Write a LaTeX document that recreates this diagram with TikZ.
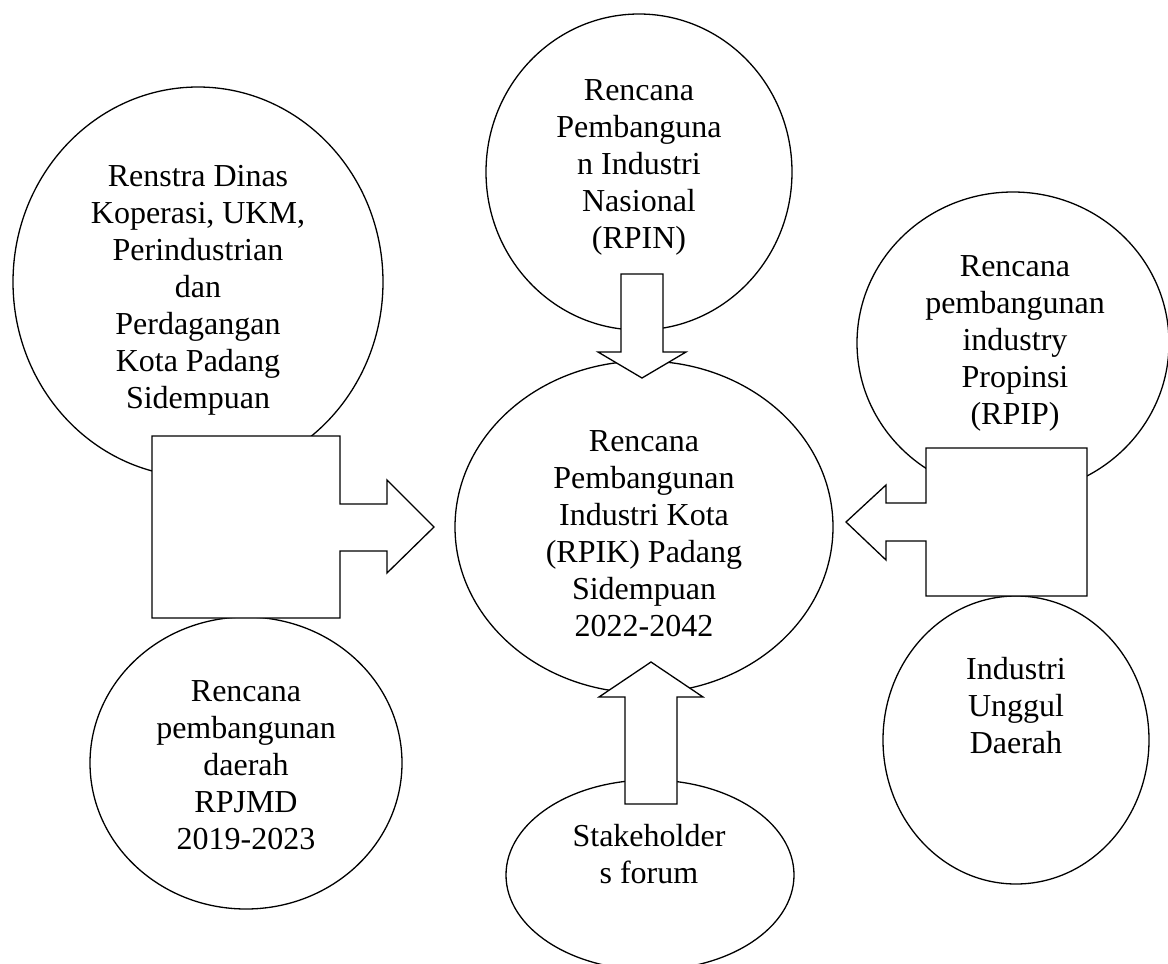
\documentclass[tikz,border=0pt]{standalone}
\usepackage{fontspec}
\setmainfont{Liberation Serif}
\usetikzlibrary{shapes.geometric}
\begin{document}
\begin{tikzpicture}[x=1pt,y=-1pt,
  bubble/.style={draw=black, line width=1.3pt, ellipse, inner sep=0pt, fill=white},
  txt/.style={anchor=north, align=center, inner sep=0pt, font=\fontsize{32}{37}\selectfont},
  callout/.style={draw=black, line width=1.3pt, fill=white, line join=miter}]
\useasboundingbox (0,0) rectangle (1168,964);
\clip (0,0) rectangle (1168,964);
% shapes
\node[bubble, minimum width=370pt, minimum height=390pt] (renstra) at (198,282) {};
\node[bubble, minimum width=306pt, minimum height=316pt] (rpin) at (639,172) {};
\node[bubble, minimum width=312pt, minimum height=302pt] (rpip) at (1013,343) {};
\node[bubble, minimum width=378pt, minimum height=332pt] (rpik) at (644,527) {};
\node[bubble, minimum width=312pt, minimum height=292pt] (rpjmd) at (246,763) {};
\node[bubble, minimum width=266pt, minimum height=288pt] (unggul) at (1016,740) {};
\node[bubble, minimum width=288pt, minimum height=190pt] (stake) at (650,875) {};
% texts
\node[txt] (renstra-t) at (198,165) {Renstra Dinas\\Koperasi, UKM,\\Perindustrian\\dan\\Perdagangan\\Kota Padang\\Sidempuan};
\node[txt] (rpin-t) at (639,79) {Rencana\\Pembanguna\\n Industri\\Nasional\\(RPIN)};
\node[txt] (rpip-t) at (1015,255) {Rencana\\pembangunan\\industry\\Propinsi\\(RPIP)};
\node[txt] (rpik-t) at (644,430) {Rencana\\Pembangunan\\Industri Kota\\(RPIK) Padang\\Sidempuan\\2022-2042};
\node[txt] (rpjmd-t) at (246,680) {Rencana\\pembangunan\\daerah\\RPJMD\\2019-2023};
\node[txt] (unggul-t) at (1016,657) {Industri\\Unggul\\Daerah};
\node[txt] (stake-t) at (649,824) {Stakeholder\\s forum};
% callouts
\coordinate (tipL) at (434,527);
\coordinate (tipR) at (846,522);
\coordinate (tipT) at (642,378);
\coordinate (tipB) at (651,662);
\draw[callout] (152,436) -- (340,436) -- (340,504) -- (387,504) -- (387,480) -- (tipL)
  -- (387,573) -- (387,551) -- (340,551) -- (340,618) -- (152,618) -- cycle;
\draw[callout] (1087,448) -- (926,448) -- (926,503) -- (886,503) -- (886,485) -- (tipR)
  -- (886,560) -- (886,541) -- (926,541) -- (926,596) -- (1087,596) -- cycle;
\draw[callout] (621,274) -- (663,274) -- (663,352) -- (686,352) -- (tipT)
  -- (598,352) -- (621,352) -- cycle;
\draw[callout] (625,804) -- (625,697) -- (599,697) -- (tipB) -- (703,697)
  -- (677,697) -- (677,804) -- cycle;
\end{tikzpicture}
\end{document}
